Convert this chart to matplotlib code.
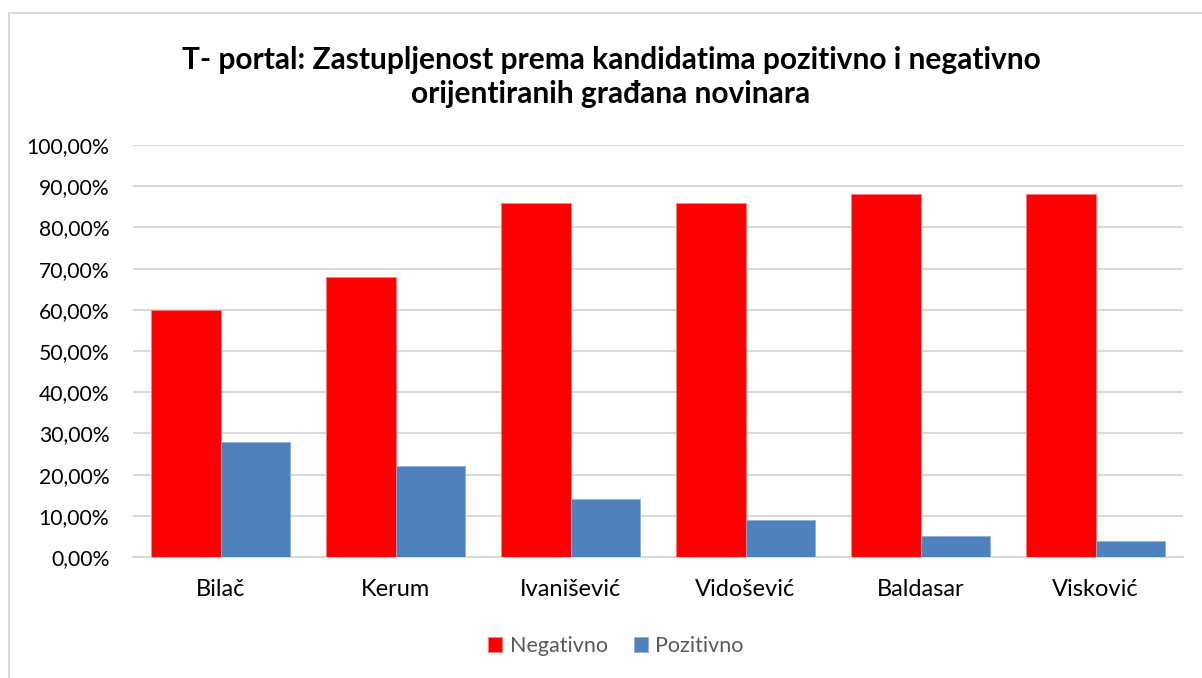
import matplotlib
matplotlib.use("Agg")
import matplotlib.pyplot as plt
from matplotlib.ticker import FuncFormatter
from matplotlib.lines import Line2D
import numpy as np

categories = ["Bilač", "Kerum", "Ivanišević", "Vidošević", "Baldasar", "Visković"]
negativno = [60, 68, 86, 86, 88, 88]
pozitivno = [28, 22, 14, 9, 5, 4]
series_names = ["Negativno", "Pozitivno"]
colors = ["#FF0000", "#4F81BD"]
title = "T- portal: Zastupljenost prema kandidatima pozitivno i negativno\norijentiranih građana novinara"

plt.rcParams['font.family'] = ['Lato', 'DejaVu Sans']

W, H = 1202, 678
fig = plt.figure(figsize=(W/100, H/100), dpi=100)
fig.patch.set_facecolor("white")

# chart border (left and top visible)
fig.add_artist(Line2D([9/W, 9/W], [0, 1 - 13/H], transform=fig.transFigure, color="#D9D9D9", lw=1.5))
fig.add_artist(Line2D([9/W, 1], [1 - 13/H, 1 - 13/H], transform=fig.transFigure, color="#D9D9D9", lw=1.5))

left, right = 133, 1183
bottom, top = 557, 145
ax = fig.add_axes([left/W, 1 - bottom/H, (right-left)/W, (bottom-top)/H])

x = np.arange(len(categories))
w = 0.397
ax.bar(x - w/2, negativno, width=w, color=colors[0], label=series_names[0], zorder=3,
       edgecolor="#FF8080", linewidth=0.6)
ax.bar(x + w/2, pozitivno, width=w, color=colors[1], label=series_names[1], zorder=3,
       edgecolor="#8FAED6", linewidth=0.6)

ax.set_xlim(-0.5, len(categories) - 0.5)
ax.set_ylim(0, 100)
ax.set_yticks(np.arange(0, 101, 10))
ax.yaxis.set_major_formatter(FuncFormatter(lambda v, p: f"{v:.2f}".replace(".", ",") + "%"))
ax.grid(axis="y", color="#D9D9D9", lw=1.5, zorder=0)
ax.set_axisbelow(True)
for s in ["top", "right", "left"]:
    ax.spines[s].set_visible(False)
ax.spines["bottom"].set_color("#D9D9D9")
ax.spines["bottom"].set_linewidth(1.5)
ax.tick_params(axis="both", length=0, colors="#000000")
ax.tick_params(axis="y", pad=17, labelsize=15.2)
ax.tick_params(axis="x", pad=16, labelsize=17)
ax.set_xticks(x)
ax.set_xticklabels(categories)

fig.text(611/W, 1 - 77/H, title, ha="center", va="center", fontsize=21.5, fontweight="bold",
         linespacing=1.25)

leg = fig.legend(loc="center", bbox_to_anchor=(616/W, 1 - 646/H), ncol=2, frameon=False,
                 fontsize=15.5, handlelength=0.65, handleheight=0.65, handletextpad=0.35,
                 columnspacing=1.2)
for t in leg.get_texts():
    t.set_color("#595959")

fig.savefig("out.png", dpi=100, facecolor="white")
